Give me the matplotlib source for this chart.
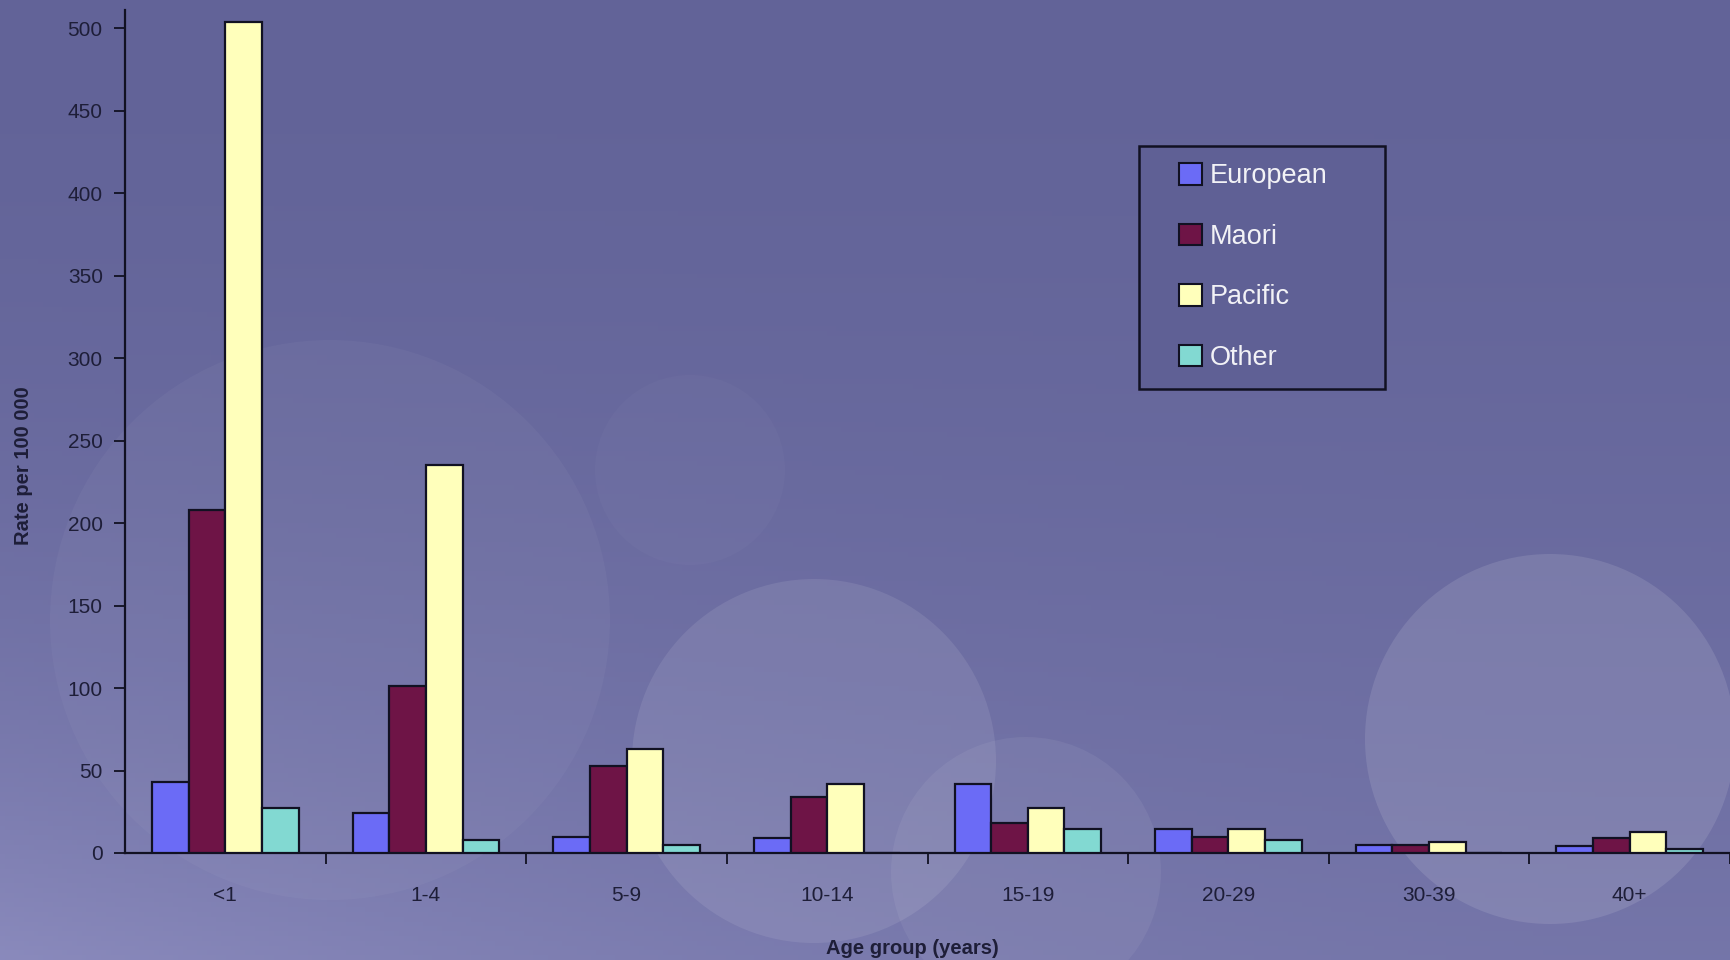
import matplotlib
matplotlib.use("Agg")
import matplotlib.pyplot as plt
import numpy as np
from matplotlib.patches import Circle, Patch, Rectangle

plt.rcParams['font.family'] = ['Liberation Sans', 'DejaVu Sans']

# data (rate per 100 000)
age_groups = ['<1', '1-4', '5-9', '10-14', '15-19', '20-29', '30-39', '40+']
european = [43, 24, 10, 9, 42, 14.5, 5, 4]
maori = [208, 101, 53, 34, 18, 10, 5, 9]
pacific = [504, 235, 63, 42, 27, 14.5, 6.5, 13]
other = [27, 8, 5, 0, 14.5, 8, 0, 2.5]

series_names = ['European', 'Maori', 'Pacific', 'Other']
colors = ['#6b6bf6', '#6e1446', '#ffffbb', '#82d9d2']

W, H = 1730, 960
fig = plt.figure(figsize=(W / 100, H / 100), dpi=100)

# background: soft gradient plus pale circles
bg = fig.add_axes([0, 0, 1, 1])
yy, xx = np.mgrid[0:1:200j, 0:1:360j]
shade = np.clip(0.45 * yy ** 1.5 + 0.5 * (1 - xx) ** 2 * yy ** 3, 0, 1)
top = np.array([0x62, 0x63, 0x98]) / 255
bot = np.array([0x8c, 0x8c, 0xbe]) / 255
img = top[None, None, :] * (1 - shade[..., None]) + bot[None, None, :] * shade[..., None]
bg.imshow(img, extent=[0, W, 0, H], aspect='auto', origin='upper')
for cx, cy, r, a in [(814, 761, 182, 0.09), (1550, 739, 185, 0.11), (1026, 872, 135, 0.06),
                     (330, 620, 280, 0.035), (690, 470, 95, 0.025)]:
    bg.add_patch(Circle((cx, H - cy), r, color='white', alpha=a, lw=0))
bg.set_xlim(0, W)
bg.set_ylim(0, H)
bg.axis('off')

ax = fig.add_axes([125 / W, 1 - 853 / H, 1 - 125 / W, (853 - 10) / H])
ax.patch.set_alpha(0)

x = np.arange(len(age_groups))
w = 0.1825
for j, (vals, c) in enumerate(zip([european, maori, pacific, other], colors)):
    ax.bar(x + (j - 1.5) * w, vals, width=w, color=c, edgecolor='#111122', linewidth=1.6,
           zorder=3)

ax.set_xlim(-0.5, (W - 125) / 201.6 - 0.5)
ax.set_ylim(0, 511)
ax.set_yticks(np.arange(0, 501, 50))
ax.set_xticks(x)
ax.set_xticklabels(age_groups)
ax.set_xticks(np.arange(len(age_groups)) + 0.5, minor=True)

txt = '#1e1e38'
ax.tick_params(axis='y', direction='out', length=8, width=1.3, color='#111122',
               labelsize=15, labelcolor=txt, pad=8)
ax.tick_params(axis='x', which='major', length=0, labelsize=15, labelcolor=txt, pad=24)
ax.tick_params(axis='x', which='minor', direction='out', length=8, width=1.3, color='#111122')
for s in ['top', 'right']:
    ax.spines[s].set_visible(False)
for s in ['left', 'bottom']:
    ax.spines[s].set_color('#111122')
    ax.spines[s].set_linewidth(1.6)

fig.text(24 / W, 1 - 466 / H, 'Rate per 100 000', rotation=90, ha='center', va='center',
         fontsize=14.5, fontweight='bold', color=txt)
fig.text(912 / W, 1 - 948 / H, 'Age group (years)', ha='center', va='center',
         fontsize=14.5, fontweight='bold', color=txt)

# legend box drawn by hand so it can be wider than its contents
fig.patches.append(Rectangle((1139 / W, 1 - 389 / H), (1385 - 1139) / W, (389 - 146) / H,
                             transform=fig.transFigure, facecolor='#5f6095',
                             edgecolor='#111122', linewidth=1.8, zorder=4))
handles = [Patch(facecolor=c, edgecolor='#111122', linewidth=1.5) for c in colors]
leg = fig.legend(handles, series_names, loc='upper left',
                 bbox_to_anchor=(1179 / W, 1 - 163 / H),
                 fontsize=19.5, frameon=False, labelspacing=1.27,
                 handlelength=0.85, handleheight=0.85, handletextpad=0.3,
                 borderpad=0, borderaxespad=0)
leg.set_zorder(5)
for t in leg.get_texts():
    t.set_color('#f2f2f6')

fig.savefig('out.png', dpi=100)
